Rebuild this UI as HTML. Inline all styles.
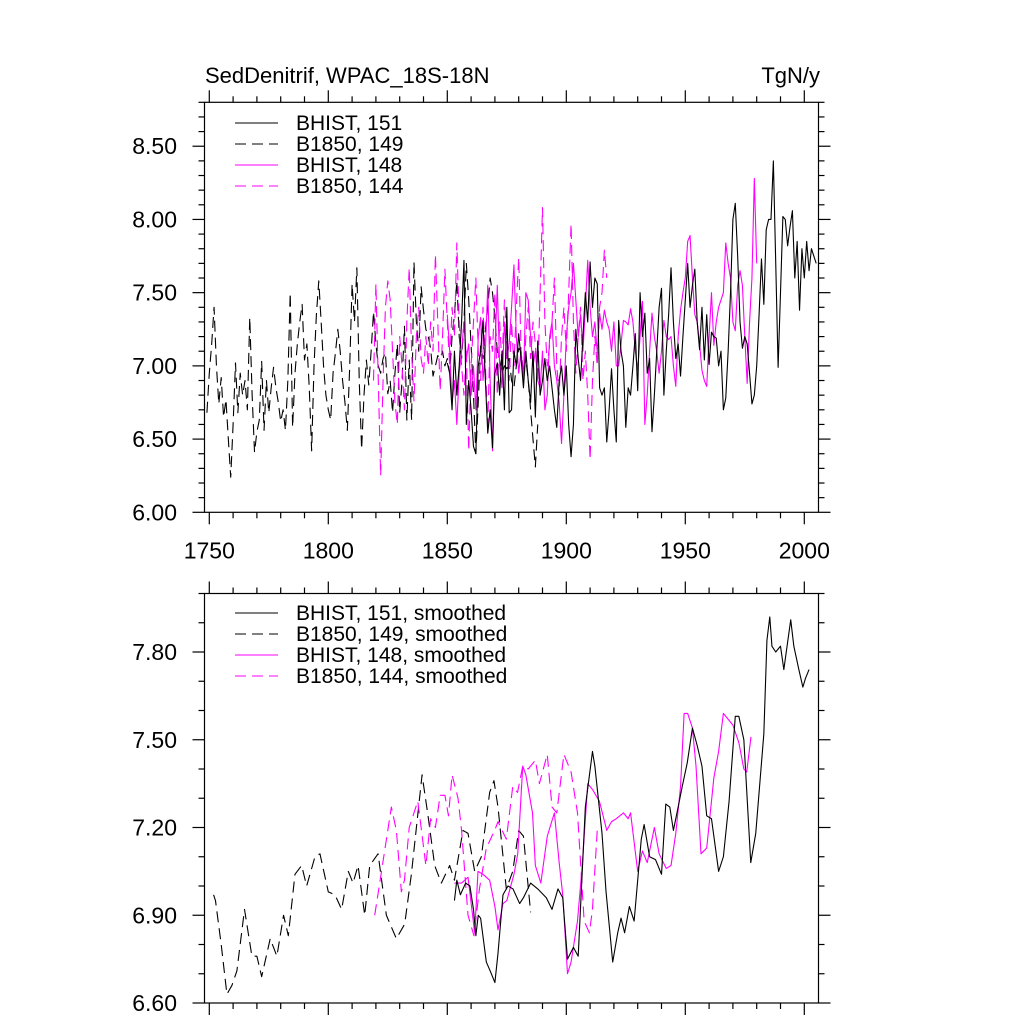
<!DOCTYPE html>
<html><head><meta charset="utf-8"><style>
html,body{margin:0;padding:0;background:#fff;}
svg{display:block;font-family:"Liberation Sans",Arial,sans-serif;}
</style></head><body>
<svg id="chart" width="1024" height="1024" viewBox="0 0 1024 1024" xmlns="http://www.w3.org/2000/svg">
<rect width="1024" height="1024" fill="#fff"/>
<text x="205" y="83" font-size="22">SedDenitrif, WPAC_18S-18N</text>
<text x="820" y="83" font-size="22" text-anchor="end">TgN/y</text>
<g id="top"></g>
<g id="bot"></g>
</svg>
<script>
// ---- annual data (top panel) ----
const bhist151Start = 1850;
const bhist151 = [7.02,6.95,6.70,7.10,6.80,7.00,7.30,7.72,6.60,6.90,6.70,6.45,6.40,7.00,7.10,7.30,6.90,6.54,6.70,6.44,6.95,7.02,6.80,7.10,6.70,7.40,6.68,6.70,7.10,7.00,7.22,7.05,6.85,7.10,6.90,6.75,7.10,6.65,7.17,6.80,6.90,7.05,6.90,7.00,6.85,6.70,6.58,6.90,7.00,6.80,7.00,6.60,6.38,6.60,7.25,7.05,6.90,7.20,7.50,7.30,7.71,7.40,7.60,7.56,6.85,6.80,6.85,6.48,6.70,6.98,6.70,6.48,7.31,7.10,7.00,6.58,6.85,6.80,7.00,7.22,6.83,7.50,7.20,7.36,6.95,7.05,6.55,6.80,7.10,7.40,7.53,6.80,7.10,7.35,7.67,7.30,7.05,7.15,6.93,7.20,7.45,7.70,7.40,7.55,7.66,7.30,7.11,7.40,7.04,7.35,7.01,7.23,7.20,7.19,7.00,7.10,6.70,6.78,7.10,7.50,8.00,8.11,7.75,7.30,7.12,7.20,7.15,6.95,6.74,6.80,7.00,7.35,7.73,7.42,7.93,8.00,8.00,8.40,7.70,6.99,7.50,8.02,8.00,7.82,7.95,8.06,7.60,7.85,7.38,7.80,7.60,7.85,7.65,7.80,7.75,7.70];
const b1850_149Start = 1749;
const b1850_149 = [6.68,6.95,7.15,7.40,7.00,6.74,6.92,6.65,6.77,6.50,6.24,6.60,7.02,6.68,6.95,6.80,6.90,6.70,7.33,6.80,6.41,6.55,6.63,7.03,6.56,6.90,6.68,6.85,6.99,6.85,6.75,6.62,6.70,6.56,6.90,7.50,6.58,6.95,7.15,7.30,7.42,7.04,7.15,6.85,6.42,7.00,7.35,7.58,7.30,7.00,6.80,6.70,6.63,6.95,7.09,7.25,7.10,6.90,6.75,6.56,7.00,7.56,7.30,7.67,6.90,6.43,6.80,7.04,6.87,7.10,7.37,7.15,7.00,6.95,7.05,7.09,6.81,6.90,6.68,6.95,7.15,6.68,6.90,7.27,6.63,7.04,6.63,7.71,7.30,7.10,7.54,7.38,7.25,7.20,7.12,6.93,7.00,7.07,7.05,7.10,7.00,7.05,6.95,7.20,7.35,7.58,7.20,7.05,7.30,7.70,7.45,7.14,6.80,6.40,6.75,7.14,7.05,7.25,7.40,7.60,7.50,7.33,7.10,7.04,6.95,7.00,6.98,7.05,6.90,6.85,7.00,7.12,7.10,6.95,7.05,6.90,6.70,6.50,6.31,6.60];
const bhist148Start = 1850;
const bhist148 = [7.35,7.10,6.75,6.90,6.60,6.95,7.10,7.30,7.05,7.15,6.80,7.00,6.70,7.20,7.33,6.90,7.10,7.55,6.90,6.42,7.10,7.55,7.00,6.85,7.30,7.05,7.15,7.40,7.69,7.20,6.95,7.10,6.90,7.50,7.45,7.20,7.00,7.10,6.90,6.85,7.10,6.70,6.80,7.20,7.30,7.00,6.90,6.75,6.47,6.80,7.20,7.40,7.50,7.70,7.45,7.20,7.35,7.10,7.40,7.72,7.40,7.20,7.30,7.09,7.36,7.25,7.38,7.30,7.25,7.10,7.30,7.00,7.00,7.15,7.31,7.30,7.28,7.39,7.30,7.10,6.97,7.20,7.44,6.60,6.80,7.10,7.36,7.20,7.10,6.95,7.10,7.31,7.20,7.18,7.20,7.00,6.86,7.20,7.38,7.50,7.60,7.85,7.89,7.60,7.35,7.30,7.15,6.97,6.90,6.86,7.20,7.50,7.14,7.30,7.40,7.45,7.50,7.84,7.70,7.60,7.30,7.24,7.55,7.65,7.55,7.20,6.88,7.30,7.60,8.28,7.70];
const b1850_144Start = 1819;
const b1850_144 = [6.90,7.56,6.90,6.25,6.90,7.40,7.58,7.45,7.10,6.75,6.60,7.20,7.00,6.70,7.30,7.67,7.10,6.76,7.20,7.40,7.05,6.95,7.20,7.00,7.30,7.10,7.76,7.30,6.83,7.20,7.66,7.30,7.00,7.40,7.20,7.84,7.30,7.00,6.80,7.10,6.42,7.00,7.30,7.60,7.10,6.90,7.40,7.00,6.60,7.20,7.10,7.50,6.80,7.30,7.00,7.45,7.20,6.90,7.30,7.00,7.40,7.74,7.10,6.90,7.20,7.40,7.05,7.30,7.15,6.90,7.50,8.08,7.30,7.00,7.15,7.30,7.60,7.00,6.80,7.20,7.40,7.10,7.50,7.97,7.30,6.95,7.20,7.40,6.90,7.10,6.80,6.36,6.90,7.20,7.00,7.40,7.50,7.79,7.60];

// ---- smoothed data (bottom panel) ----
const s151Years = [1853,1854,1855.5,1857.7,1859.5,1861,1862,1863,1864,1866.4,1868,1870,1871.3,1873.4,1875.5,1877.6,1880.4,1882,1885,1888,1891.6,1894,1896.5,1898.5,1900.5,1903,1905,1908,1911,1912,1915,1916.7,1919.5,1921.6,1923,1924.5,1926.5,1928.5,1931.5,1932.7,1935,1937.5,1940,1941.8,1943.5,1945,1947,1948.7,1950.8,1953,1955,1957,1959,1961,1964,1966,1968.4,1971,1972.5,1974.6,1977.5,1979.6,1983,1984.3,1985.5,1986.4,1988,1990,1991.4,1994.3,1995.6,1997.7,1999.4,2000.5,2002];
const s151Vals = [6.95,7.02,6.97,7.01,7.00,6.92,6.83,6.90,6.89,6.74,6.71,6.67,6.77,6.97,7.00,6.99,6.94,6.96,7.01,6.99,6.96,6.92,6.99,6.96,6.75,6.79,6.76,7.27,7.46,7.41,7.18,6.98,6.74,6.84,6.89,6.84,6.93,6.88,7.16,7.21,7.10,7.09,7.04,7.28,7.27,7.19,7.27,7.34,7.42,7.54,7.48,7.41,7.24,7.23,7.05,7.10,7.29,7.58,7.58,7.50,7.08,7.18,7.52,7.84,7.92,7.82,7.80,7.82,7.74,7.91,7.82,7.74,7.68,7.71,7.74];
const s149Years = [1751.8,1752.6,1755,1757.4,1759.5,1761.6,1764.8,1767.9,1770,1772,1775.6,1778.4,1781.2,1783.2,1786,1788.8,1790.9,1794.4,1796.5,1800,1802.8,1805.6,1808.4,1810.4,1812.5,1815.3,1817.4,1820.9,1824.4,1828.6,1832.1,1834.9,1839.4,1841.9,1844.7,1847.5,1851,1853,1856.6,1858.7,1861.5,1864.3,1867.8,1869.6,1871.3,1874.8,1877.5,1880,1882,1885];
const s149Vals = [6.97,6.95,6.80,6.63,6.66,6.71,6.92,6.76,6.76,6.69,6.82,6.76,6.90,6.83,7.04,7.07,7.00,7.10,7.11,6.98,6.97,6.92,7.05,7.01,7.07,6.90,7.07,7.11,6.90,6.82,6.87,7.04,7.38,7.24,7.07,7.01,7.07,7.02,7.19,7.18,7.05,7.10,7.32,7.36,7.27,6.99,7.05,7.19,7.17,6.91];
const s148Years = [1853,1856,1858.7,1861.5,1862.9,1865,1867.8,1870,1871.3,1873.4,1875,1878,1879.6,1881.7,1883,1885.8,1887,1889.3,1892,1895,1897,1898.5,1900.5,1902,1904.7,1906.7,1909,1911,1913.9,1917,1919,1921,1924,1926,1927,1930,1932,1934,1937,1939,1942,1944,1946,1948,1949.5,1951,1953,1954.5,1956.6,1959,1962,1964,1966,1968,1970,1972.5,1974.6,1975.8,1977.6];
const s148Vals = [7.01,7.01,7.03,6.84,7.05,7.04,7.02,6.93,6.85,6.94,6.95,7.04,7.11,7.41,7.38,7.25,7.07,7.01,7.17,7.25,7.08,6.97,6.70,6.74,6.88,7.07,7.35,7.33,7.29,7.19,7.22,7.23,7.25,7.23,7.25,7.05,7.12,7.08,7.20,7.11,7.06,7.07,7.18,7.34,7.59,7.59,7.54,7.41,7.11,7.13,7.37,7.46,7.59,7.57,7.55,7.49,7.40,7.39,7.51];
const s144Years = [1819.5,1821.6,1826.5,1828.6,1830.7,1832,1834,1837.6,1841,1843,1845,1847,1849,1850.5,1852,1854.5,1856,1858.7,1861.2,1863.5,1866.4,1869.9,1871.3,1874.8,1877.5,1879.5,1881.7,1884,1887,1888.7,1892,1894,1896,1899,1902,1904.7,1907.5,1909.7,1911,1913];
const s144Vals = [6.90,7.01,7.27,7.19,6.98,7.02,7.20,7.29,7.07,7.23,7.20,7.31,7.31,7.24,7.38,7.30,7.19,6.90,6.83,6.99,7.13,7.19,7.22,7.16,7.34,7.32,7.41,7.40,7.43,7.35,7.45,7.27,7.25,7.45,7.39,7.25,6.88,6.84,6.92,7.19];

const topYTicks = ["6.00","6.50","7.00","7.50","8.00","8.50"];
const botYTicks = ["6.60","6.90","7.20","7.50","7.80"];
const xTickLabels = ["1750","1800","1850","1900","1950","2000"];

const NS = "http://www.w3.org/2000/svg";
const L = 204.5, R = 818.5;
function xs(yr){ return 209.3 + (yr - 1750) * (119 / 50); }
function mk(tag, attrs, parent){
  const e = document.createElementNS(NS, tag);
  for (const k in attrs) e.setAttribute(k, attrs[k]);
  parent.appendChild(e); return e;
}
function panel(g, top, bot, vmin, vmax, yTicks, minorStep, showXLabels){
  const ys = v => bot - (v - vmin) / (vmax - vmin) * (bot - top);
  const ax = mk('g', {stroke:'#000','stroke-width':1.2, fill:'none'}, g);
  
  
  mk('rect', {x:L, y:top, width:R-L, height:bot-top}, ax);
  for (let yr = 1750; yr <= 2005; yr += 10){
    const x = xs(yr), len = (yr % 50 === 0) ? 12 : 6;
    mk('line', {x1:x, y1:bot, x2:x, y2:bot+len}, ax);
    mk('line', {x1:x, y1:top, x2:x, y2:top-len}, ax);
  }
  const n = Math.round((vmax - vmin) / minorStep);
  for (let i = 0; i <= n; i++){
    const v = vmin + i * minorStep, y = ys(v);
    const major = yTicks.some(t => Math.abs(parseFloat(t) - v) < 1e-6);
    const len = major ? 12 : 6;
    mk('line', {x1:L, y1:y, x2:L-len, y2:y}, ax);
    mk('line', {x1:R, y1:y, x2:R+len, y2:y}, ax);
  }
  yTicks.forEach(t => {
    const tx = mk('text', {x:177, y:ys(parseFloat(t)) + 8, 'font-size':23, 'text-anchor':'end', fill:'#000'}, g);
    
    
    tx.textContent = t;
  });
  if (showXLabels){
    xTickLabels.forEach(t => {
      const tx = mk('text', {x:xs(parseFloat(t)), y:bot + 46, 'font-size':23, 'text-anchor':'middle', fill:'#000'}, g);
      
      
      tx.textContent = t;
    });
  }
  return ys;
}
function series(g, ys, years, vals, color, dashed, name){
  const pts = vals.map((v, i) => xs(years[i]).toFixed(2) + ',' + ys(v).toFixed(2)).join(' ');
  const p = mk('polyline', {points:pts, fill:'none', stroke:color, 'stroke-width':1.1, 'stroke-linejoin':'round'}, g);
  if (dashed) p.setAttribute('stroke-dasharray', '11 6');
  
  
}
function yearsFrom(start, arr){ return arr.map((_, i) => start + i); }
function legend(g, y0, labels){
  const styles = [['#000',false],['#000',true],['#ff00ff',false],['#ff00ff',true]];
  labels.forEach((lab, i) => {
    const y = y0 + i * 21;
    const ln = mk('line', {x1:235, y1:y, x2:278, y2:y, stroke:styles[i][0], 'stroke-width':1.1}, g);
    if (styles[i][1]) ln.setAttribute('stroke-dasharray', '11 6');
    
    
    const t = mk('text', {x:296, y:y + 7, 'font-size':21, fill:'#000'}, g);
    
    
    t.textContent = lab;
  });
}
const gT = document.getElementById('top');
const ysT = panel(gT, 102.3, 512.3, 6.0, 8.8, topYTicks, 0.1, true);
series(gT, ysT, yearsFrom(b1850_149Start, b1850_149), b1850_149, '#000', true, 'b1850-149-line');
series(gT, ysT, yearsFrom(b1850_144Start, b1850_144), b1850_144, '#ff00ff', true, 'b1850-144-line');
series(gT, ysT, yearsFrom(bhist148Start, bhist148), bhist148, '#ff00ff', false, 'bhist-148-line');
series(gT, ysT, yearsFrom(bhist151Start, bhist151), bhist151, '#000', false, 'bhist-151-line');
legend(gT, 123, ["BHIST, 151","B1850, 149","BHIST, 148","B1850, 144"]);

const gB = document.getElementById('bot');
const ysB = panel(gB, 593.5, 1003, 6.6, 8.0, botYTicks, 0.1, false);
series(gB, ysB, s149Years, s149Vals, '#000', true, 'b1850-149-smoothed-line');
series(gB, ysB, s144Years, s144Vals, '#ff00ff', true, 'b1850-144-smoothed-line');
series(gB, ysB, s148Years, s148Vals, '#ff00ff', false, 'bhist-148-smoothed-line');
series(gB, ysB, s151Years, s151Vals, '#000', false, 'bhist-151-smoothed-line');
legend(gB, 613, ["BHIST, 151, smoothed","B1850, 149, smoothed","BHIST, 148, smoothed","B1850, 144, smoothed"]);
</script>
</body></html>
